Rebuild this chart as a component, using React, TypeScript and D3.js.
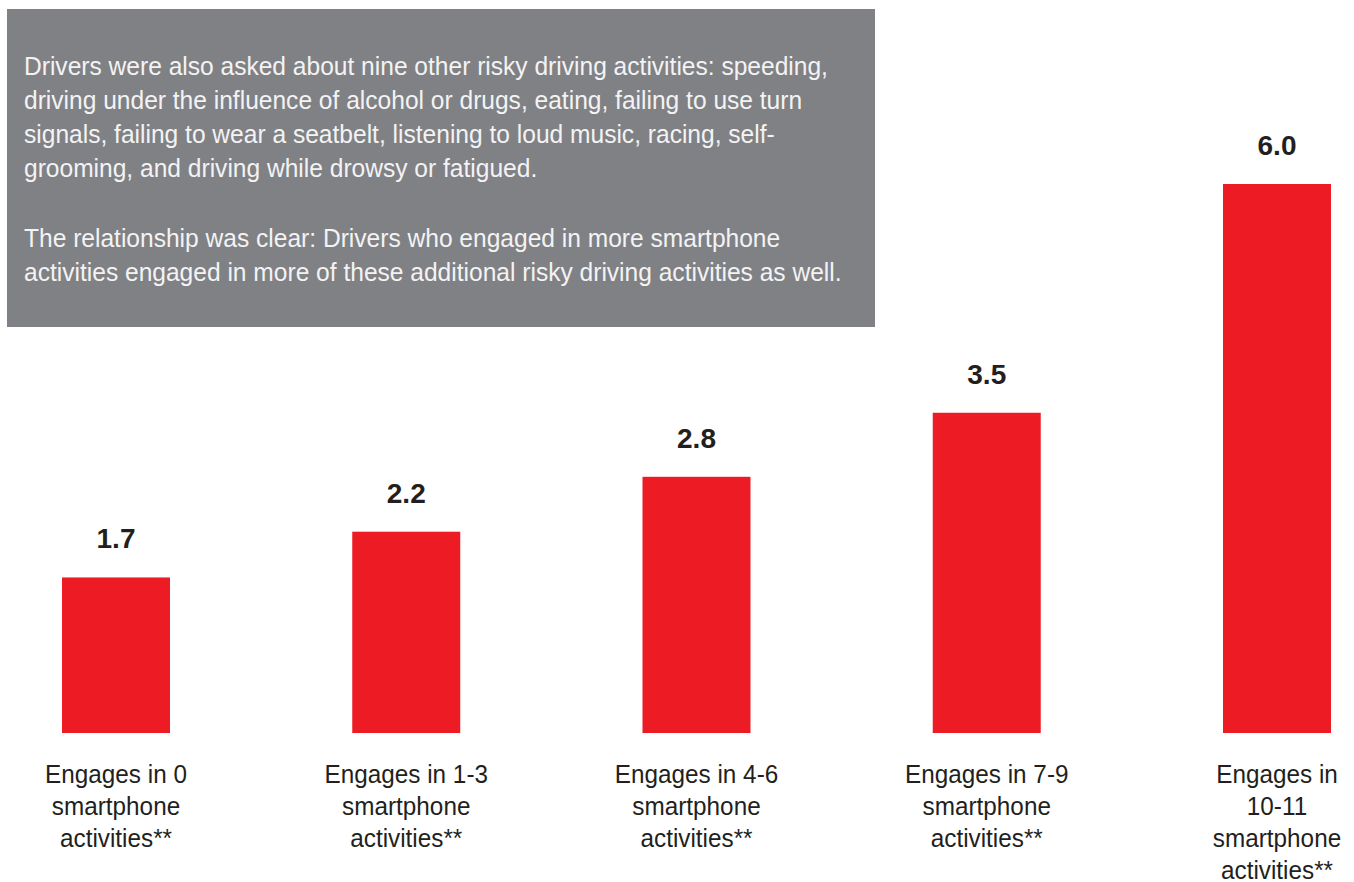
import React from 'react';
import * as d3 from 'd3';

const categories = ['0', '1-3', '4-6', '7-9', '10-11'];
const values = [1.7, 2.2, 2.8, 3.5, 6.0];
const labelLines = [
  ['Engages in 0', 'smartphone', 'activities**'],
  ['Engages in 1-3', 'smartphone', 'activities**'],
  ['Engages in 4-6', 'smartphone', 'activities**'],
  ['Engages in 7-9', 'smartphone', 'activities**'],
  ['Engages in', '10-11', 'smartphone', 'activities**'],
];
const noteParagraphs = [
  [
    'Drivers were also asked about nine other risky driving activities: speeding,',
    'driving under the influence of alcohol or drugs, eating, failing to use turn',
    'signals, failing to wear a seatbelt, listening to loud music, racing, self-',
    'grooming, and driving while drowsy or fatigued.',
  ],
  [
    'The relationship was clear: Drivers who engaged in more smartphone',
    'activities engaged in more of these additional risky driving activities as well.',
  ],
];

const width = 1354;
const height = 882;
const font = '"Liberation Sans", Arial, sans-serif';
// the original face is a condensed grotesque; squeeze the text horizontally
const squeeze = 0.935;
const noteSqueeze = 0.945;

const App: React.FC = () => {
  const x = d3.scalePoint<string>().domain(categories).range([116, 1277]);
  const y = d3.scaleLinear().domain([0, 6]).range([733, 184]);
  const barWidth = 108;

  let lineY = 75;
  const noteLines: { text: string; y: number }[] = [];
  noteParagraphs.forEach((para, pi) => {
    if (pi > 0) lineY += 36;
    para.forEach((t) => {
      noteLines.push({ text: t, y: lineY });
      lineY += 34;
    });
  });

  return (
    <svg
      width={width}
      height={height}
      style={{ position: 'absolute', left: 0, top: 0, background: '#fff' }}
    >
      {/* note box */}
      <rect x={7} y={9} width={868} height={318} fill="#808184" />
      {noteLines.map((l, i) => (
        <text
          key={i}
          transform={`translate(24,${l.y}) scale(${noteSqueeze},1)`}
          fill="#f3f3f4"
          fontFamily={font}
          fontSize={26}
        >
          {l.text}
        </text>
      ))}

      {categories.map((c, i) => {
        const cx = x(c) as number;
        return (
          <g key={c}>
            <rect
              x={cx - barWidth / 2}
              y={y(values[i])}
              width={barWidth}
              height={y(0) - y(values[i])}
              fill="#ed1c24"
            />
            <text
              x={cx}
              y={y(values[i]) - 29}
              textAnchor="middle"
              fontFamily={font}
              fontWeight="bold"
              fontSize={28}
              fill="#231f20"
            >
              {d3.format('.1f')(values[i])}
            </text>
            {labelLines[i].map((t, j) => (
              <text
                key={j}
                transform={`translate(${cx},${783 + j * 32}) scale(${squeeze},1)`}
                textAnchor="middle"
                fontFamily={font}
                fontSize={26}
                fill="#231f20"
              >
                {t}
              </text>
            ))}
          </g>
        );
      })}
    </svg>
  );
};

export default App;
